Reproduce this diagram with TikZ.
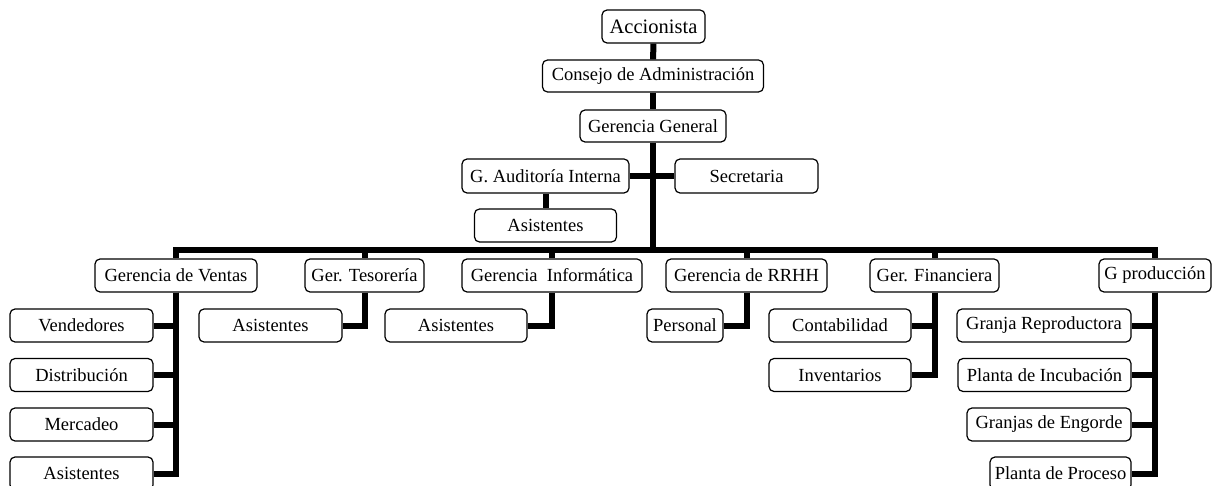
\documentclass[tikz,border=0pt]{standalone}
\usepackage{fontspec}
\setmainfont{Liberation Serif}
\usepackage{tikz}

\begin{document}
\begin{tikzpicture}[x=1pt, y=-1pt]
  \tikzstyle{cargo}=[rectangle, rounded corners=5pt, draw=black, line width=1.2pt, fill=white, text=black, inner sep=2pt, minimum height=33pt, font=\fontsize{18.5}{22}\selectfont ]
  \tikzstyle{linea}=[line width=6pt, draw=black ]

  \useasboundingbox (0,0) rectangle (1215,486);

  % direccion
  \node[cargo, minimum width=103pt, font=\fontsize{20.5}{24}\selectfont] at (653.5, 26.5) (acc)  { Accionista };
  \node[cargo, minimum width=221pt, minimum height=32pt] at (653, 76)  (cons) { Consejo de Administración };
  \node[cargo, minimum width=146pt, minimum height=32pt] at (653, 126) (gg)   { Gerencia General };
  \node[cargo, minimum width=167pt, minimum height=34pt] at (545.5, 176) (aud) { G. Auditoría Interna };
  \node[cargo, minimum width=143pt, minimum height=34pt] at (746.5, 176) (sec) { Secretaria };
  \node[cargo, minimum width=142pt] at (545.5, 225.5) (asaud) { Asistentes };

  % gerencias
  \node[cargo, minimum width=162pt] at (176, 275.5)    (ventas) { Gerencia de Ventas };
  \node[cargo, minimum width=119pt] at (364.5, 275.5)  (tes)    { Ger. Tesorería };
  \node[cargo, minimum width=180pt] at (552, 275.5)    (info)   { Gerencia\ \ Informática };
  \node[cargo, minimum width=161pt] at (746.5, 275.5)  (rrhh)   { Gerencia de RRHH };
  \node[cargo, minimum width=129pt] at (934.5, 275.5)  (fin)    { Ger. Financiera };
  \node[cargo, minimum width=112pt] at (1155, 275.5)   (prod)   { G producción };

  % departamentos
  \node[cargo, minimum width=143pt] at (81.5, 325.5)  (vend)  { Vendedores };
  \node[cargo, minimum width=143pt] at (81.5, 375)    (dist)  { Distribución };
  \node[cargo, minimum width=143pt] at (81.5, 424.5)  (merc)  { Mercadeo };
  \node[cargo, minimum width=143pt] at (81.5, 473.5)  (asven) { Asistentes };
  \node[cargo, minimum width=143pt] at (270.5, 325.5) (astes) { Asistentes };
  \node[cargo, minimum width=142pt] at (456, 325.5)   (asinf) { Asistentes };
  \node[cargo, minimum width=76pt]  at (685, 325.5)   (pers)  { Personal };
  \node[cargo, minimum width=142pt] at (840, 325.5)   (cont)  { Contabilidad };
  \node[cargo, minimum width=142pt] at (840, 375)     (inv)   { Inventarios };
  \node[cargo, minimum width=174pt] at (1044, 325.5)  (granja)  { Granja Reproductora };
  \node[cargo, minimum width=173pt] at (1044.5, 375)  (incub)   { Planta de Incubación };
  \node[cargo, minimum width=164pt] at (1049, 424.5)  (engorde) { Granjas de Engorde };
  \node[cargo, minimum width=141pt] at (1060.5, 473.5) (proceso) { Planta de Proceso };

  \coordinate (barra) at (653, 250);

  \draw[linea] (acc) -- (cons);
  \draw[linea] (cons) -- (gg);
  \draw[linea] (gg) -- (barra);
  \draw[linea] (aud) -- (sec);
  \draw[linea] (aud) -- (asaud);
  \foreach \g in {ventas,tes,info,rrhh,fin,prod}
    \draw[linea] (barra) -| (\g.north);

  \foreach \d in {vend,dist,merc,asven}
    \draw[linea] (ventas.south) |- (\d.east);
  \draw[linea] (tes.south) |- (astes.east);
  \draw[linea] (info.south) |- (asinf.east);
  \draw[linea] (rrhh.south) |- (pers.east);
  \foreach \d in {cont,inv}
    \draw[linea] (fin.south) |- (\d.east);
  \foreach \d in {granja,incub,engorde,proceso}
    \draw[linea] (prod.south) |- (\d.east);
\end{tikzpicture}
\end{document}
